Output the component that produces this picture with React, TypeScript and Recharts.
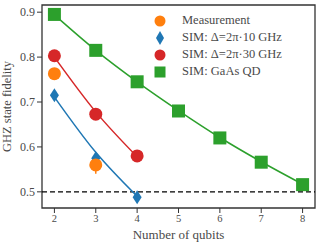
import {
  ComposedChart,
  Line,
  Scatter,
  XAxis,
  YAxis,
  ReferenceLine,
  ReferenceArea,
  ErrorBar,
} from 'recharts';

// Données
const qubitsShort = [2, 3, 4];
const qubitsLong = [2, 3, 4, 5, 6, 7, 8];
const xTicks = [2, 3, 4, 5, 6, 7, 8];
const yTicks = [0.5, 0.6, 0.7, 0.8, 0.9];

const measQubits = [2, 3];
const measured = [0.763, 0.56];
const measErr = [0, 0.02];

const sim10 = [0.715, 0.575, 0.488];
const sim10Fit = [0.711, 0.588, 0.49];
const sim30 = [0.803, 0.673, 0.58];
const sim30Fit = [0.8, 0.678, 0.578];
const gaas = [0.895, 0.815, 0.745, 0.68, 0.62, 0.566, 0.516];
const gaasFit = [0.894, 0.815, 0.745, 0.681, 0.621, 0.567, 0.517];

const C = {
  orange: '#ff7f0e',
  blue: '#1f77b4',
  red: '#d62728',
  green: '#2ca02c',
  frame: '#333333',
  text: '#4a4a4a',
};

const FONT = '"Liberation Serif", "DejaVu Serif", serif';

const pts = (xs: number[], ys: number[]) => xs.map((x, i) => ({ x, y: ys[i] }));
const measData = measQubits.map((x, i) => ({ x, y: measured[i], err: measErr[i] }));

// Formes des marqueurs
const circle = (color: string) => (p: any) => (
  <circle cx={p.cx} cy={p.cy} r={6.5} fill={color} />
);
const diamond = (color: string) => (p: any) => (
  <path
    d={`M${p.cx},${p.cy - 7} L${p.cx + 4.5},${p.cy} L${p.cx},${p.cy + 7} L${p.cx - 4.5},${p.cy} Z`}
    fill={color}
  />
);
const square = (color: string) => (p: any) => (
  <rect x={p.cx - 6.5} y={p.cy - 6.5} width={13} height={13} fill={color} />
);

const legendItems = [
  { label: 'Measurement', color: C.orange, kind: 'circle' },
  { label: 'SIM: Δ=2π·10 GHz', color: C.blue, kind: 'diamond' },
  { label: 'SIM: Δ=2π·30 GHz', color: C.red, kind: 'circle' },
  { label: 'SIM: GaAs QD', color: C.green, kind: 'square' },
];

function LegendIcon({ kind, color }: { kind: string; color: string }) {
  return (
    <svg width={14} height={14} style={{ display: 'block' }}>
      {kind === 'circle' && <circle cx={7} cy={7} r={5.5} fill={color} />}
      {kind === 'diamond' && <path d="M7,0 L11,7 L7,14 L3,7 Z" fill={color} />}
      {kind === 'square' && <rect x={1.5} y={1.5} width={11} height={11} fill={color} />}
    </svg>
  );
}

export default function App() {
  return (
    <div style={{ position: 'fixed', left: 0, top: 0, width: 320, height: 244, background: '#fff' }}>
      <ComposedChart
        width={320}
        height={244}
        margin={{ top: 5, right: 5, left: 0, bottom: 0 }}
        style={{ fontFamily: FONT }}
      >
        <XAxis
          dataKey="x"
          type="number"
          domain={[1.7, 8.3]}
          ticks={xTicks}
          height={36}
          axisLine={false}
          tickSize={5}
          tickLine={{ stroke: C.frame }}
          tick={{ fontSize: 10.5, fill: C.text, fontFamily: FONT }}
          allowDuplicatedCategory={false}
          label={{
            value: 'Number of qubits',
            position: 'insideBottom',
            offset: 5,
            style: { fontSize: 13, fill: C.text, fontFamily: FONT },
          }}
        />
        <YAxis
          type="number"
          domain={[0.464, 0.916]}
          ticks={yTicks}
          width={42}
          axisLine={false}
          tickSize={5}
          tickLine={{ stroke: C.frame }}
          tick={{ fontSize: 12, fill: C.text, fontFamily: FONT }}
          tickFormatter={(v) => v.toFixed(1)}
          label={{
            value: 'GHZ state fidelity',
            angle: -90,
            position: 'insideLeft',
            offset: 7,
            style: { fontSize: 12.5, fill: C.text, fontFamily: FONT, textAnchor: 'middle' },
          }}
        />
        <ReferenceLine y={0.5} stroke="#000" strokeWidth={1.2} strokeDasharray="5 3" />

        <Line data={pts(qubitsShort, sim10Fit)} dataKey="y" type="monotone" stroke={C.blue} strokeWidth={1.5} dot={false} isAnimationActive={false} />
        <Line data={pts(qubitsShort, sim30Fit)} dataKey="y" type="monotone" stroke={C.red} strokeWidth={1.5} dot={false} isAnimationActive={false} />
        <Line data={pts(qubitsLong, gaasFit)} dataKey="y" type="monotone" stroke={C.green} strokeWidth={1.5} dot={false} isAnimationActive={false} />

        <Scatter data={pts(qubitsShort, sim10)} dataKey="y" shape={diamond(C.blue)} isAnimationActive={false} />
        <Scatter data={pts(qubitsShort, sim30)} dataKey="y" shape={circle(C.red)} isAnimationActive={false} />
        <Scatter data={pts(qubitsLong, gaas)} dataKey="y" shape={square(C.green)} isAnimationActive={false} />
        <Scatter data={measData} dataKey="y" shape={circle(C.orange)} isAnimationActive={false}>
          <ErrorBar dataKey="err" direction="y" width={0} stroke={C.orange} strokeWidth={1.5} />
        </Scatter>

        <ReferenceArea
          x1={1.7}
          x2={8.3}
          y1={0.464}
          y2={0.916}
          fill="none"
          stroke={C.frame}
          strokeWidth={1.3}
          ifOverflow="visible"
        />
      </ComposedChart>

      <div
        style={{
          position: 'absolute',
          left: 153,
          top: 12,
          fontFamily: FONT,
          fontSize: 12.5,
          color: C.text,
        }}
      >
        {legendItems.map((it) => (
          <div key={it.label} style={{ display: 'flex', alignItems: 'center', height: 17 }}>
            <LegendIcon kind={it.kind} color={it.color} />
            <span style={{ marginLeft: 15, whiteSpace: 'nowrap' }}>{it.label}</span>
          </div>
        ))}
      </div>
    </div>
  );
}
